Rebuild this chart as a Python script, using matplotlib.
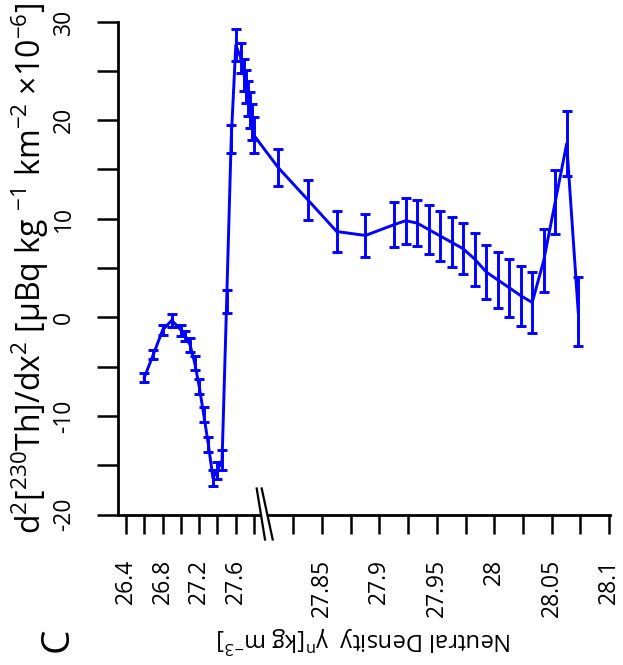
import numpy as np
import matplotlib
matplotlib.use('Agg')
import matplotlib.pyplot as plt
from matplotlib.lines import Line2D
from matplotlib.patches import Polygon

plt.rcParams['font.family'] = ['Open Sans', 'DejaVu Sans']
plt.rcParams['mathtext.fontset'] = 'custom'
plt.rcParams['mathtext.rm'] = 'Open Sans'
plt.rcParams['mathtext.it'] = 'Open Sans:italic'
plt.rcParams['mathtext.default'] = 'regular'

# neutral density (kg m-3), second derivative of 230Th, and its error
density = [26.6, 26.7, 26.8, 26.9, 27.0, 27.05, 27.1, 27.15, 27.2, 27.25, 27.3, 27.35,
           27.4, 27.45, 27.5, 27.55, 27.6, 27.655, 27.69, 27.71, 27.733, 27.755, 27.777, 27.795,
           27.8154, 27.838, 27.863, 27.888, 27.913, 27.923, 27.933, 27.943, 27.953, 27.963,
           27.973, 27.983, 27.993, 28.003, 28.013, 28.023, 28.033, 28.043, 28.053, 28.063, 28.073]
d2th = [-6.1, -3.75, -1.3, -0.3, -1.3, -1.9, -2.8, -4.6, -7.0, -9.9, -12.9, -16.3,
        -15.5, -14.5, 1.6, 18.1, 27.6, 26.3, 24.6, 23.4, 22.2, 21.0, 19.8, 18.5,
        15.2, 11.9, 8.7, 8.3, 9.4, 9.8, 9.55, 8.9, 8.25, 7.6,
        6.95, 5.9, 4.6, 3.8, 3.0, 2.2, 1.5, 5.75, 11.7, 17.6, 0.55]
d2th_err = [0.45, 0.47, 0.47, 0.65, 0.56, 0.55, 0.7, 0.7, 0.76, 0.76, 0.8, 0.85,
            0.85, 1.0, 1.2, 1.45, 1.6, 1.5, 1.6, 1.7, 1.75, 1.8, 1.8, 1.85,
            1.9, 2.0, 2.06, 2.15, 2.3, 2.33, 2.36, 2.45, 2.5, 2.53,
            2.6, 2.7, 2.75, 2.85, 2.95, 3.05, 3.12, 3.2, 3.26, 3.3, 3.5]

x_ticks = [26.4, 26.6, 26.8, 27.0, 27.2, 27.4, 27.6, 27.8,
           27.825, 27.85, 27.875, 27.9, 27.925, 27.95, 27.975, 28.0, 28.025, 28.05, 28.075, 28.1]
x_ticklabels = ['26.4', '', '26.8', '', '27.2', '', '27.6', '',
                '', '27.85', '', '27.9', '', '27.95', '', '28', '', '28.05', '', '28.1']
y_ticks = [-20, -15, -10, -5, 0, 5, 10, 15, 20, 25, 30]
y_ticklabels = ['-20', '', '-10', '', '0', '', '10', '', '20', '', '30']


# broken density axis: stretched above 27.8
def fwd(x):
    x = np.asarray(x, dtype=float)
    left = 126 + (x - 26.4) * 91.5
    gap = 254.1 + (x - 27.8) * 1556
    right = 293 + (x - 27.825) * 1150
    return np.where(x <= 27.8, left, np.where(x <= 27.825, gap, right))


def inv(p):
    p = np.asarray(p, dtype=float)
    left = 26.4 + (p - 126) / 91.5
    gap = 27.8 + (p - 254.1) / 1556
    right = 27.825 + (p - 293) / 1150
    return np.where(p <= 254.1, left, np.where(p <= 293, gap, right))


W, H = 623, 665
fig = plt.figure(figsize=(W / 100, H / 100), dpi=100)
ax = fig.add_axes([118 / W, 1 - 514.5 / H, 492 / W, 493 / H])
ax.set_xscale('function', functions=(fwd, inv))
ax.set_xlim(float(inv(118)), float(inv(610)))
ax.set_ylim(-20, 30)

blue = '#0000ff'
ax.errorbar(density, d2th, yerr=d2th_err, color=blue, lw=2.1, elinewidth=2.1,
            capsize=3.6, capthick=2.1, clip_on=False)

for side in ['top', 'right']:
    ax.spines[side].set_visible(False)
for side in ['left', 'bottom']:
    ax.spines[side].set_linewidth(2.0)

ax.set_xticks(x_ticks)
ax.set_xticklabels(x_ticklabels, rotation=90, va='top', ha='center')
ax.xaxis.set_minor_locator(matplotlib.ticker.NullLocator())
ax.set_yticks(y_ticks)
ax.set_yticklabels(y_ticklabels, rotation=90, va='center', ha='right')
ax.tick_params(axis='x', length=14, width=1.8, pad=18, labelsize=16.5)
ax.tick_params(axis='y', length=15, width=1.8, pad=15, labelsize=16.5)

# axis break marks
bx = float(inv(264.5))
cx, cy = ax.transData.transform((bx, -20))
to_fig = fig.transFigure.inverted()
slashes = [((-7.8, 26), (0.5, -25)), ((-2.8, 26), (8.2, -25))]
pts = []
for (x0, y0), (x1, y1) in slashes:
    pts.append((cx + x0, cy + y0))
    pts.append((cx + x1, cy + y1))
quad = [pts[0], pts[1], pts[3], pts[2]]
fig.add_artist(Polygon(to_fig.transform(quad), closed=True, facecolor='white',
                       edgecolor='none', zorder=5))
for i in range(2):
    seg = to_fig.transform([pts[2 * i], pts[2 * i + 1]])
    fig.add_artist(Line2D(seg[:, 0], seg[:, 1], color='black', lw=1.6, zorder=6))

fig.text(30 / W, 1 - 268 / H,
         r'd$^2$[$^{230}$Th]/dx$^2$ [µBq kg $^{-1}$ km$^{-2}$ ×10$^{-6}$]',
         rotation=90, ha='center', va='center', fontsize=23)
fig.text(364 / W, 1 - 640 / H, r'Neutral Density  γ$^n$[kg m$^{-3}$]',
         rotation=180, ha='center', va='center', fontsize=17)
fig.text(58 / W, 1 - 640 / H, 'C', rotation=90, ha='center', va='center', fontsize=28)

fig.savefig('out.png', dpi=100)
